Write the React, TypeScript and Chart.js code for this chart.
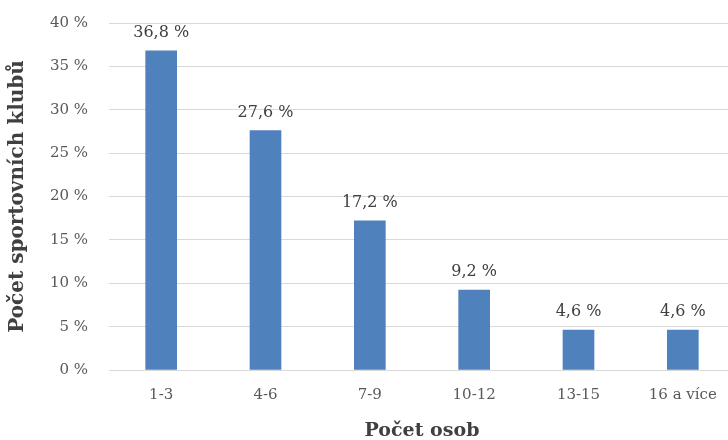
import React, { useEffect, useRef } from "react";
import { Chart, registerables } from "chart.js";

Chart.register(...registerables);

const categories = ["1-3", "4-6", "7-9", "10-12", "13-15", "16 a více"];
const values = [36.8, 27.6, 17.2, 9.2, 4.6, 4.6];
const valueLabels = ["36,8 %", "27,6 %", "17,2 %", "9,2 %", "4,6 %", "4,6 %"];
const yTitle = "Počet sportovních klubů";
const xTitle = "Počet osob";

const FONT = "'DejaVu Serif', 'Liberation Serif', serif";

const dataLabelPlugin = {
  id: "dataLabels",
  afterDatasetsDraw(chart: any) {
    const ctx = chart.ctx;
    const meta = chart.getDatasetMeta(0);
    ctx.save();
    ctx.font = `16px ${FONT}`;
    ctx.fillStyle = "#404040";
    ctx.textAlign = "center";
    ctx.textBaseline = "middle";
    meta.data.forEach((bar: any, i: number) => {
      ctx.fillText(valueLabels[i], bar.x, bar.y - 18);
    });
    ctx.restore();
  },
};

export default function App() {
  const ref = useRef<HTMLCanvasElement>(null);
  useEffect(() => {
    document.body.style.margin = "0";
    const chart = new Chart(ref.current!, {
      type: "bar",
      data: {
        labels: categories,
        datasets: [
          {
            data: values,
            backgroundColor: "#4F81BD",
            barThickness: 31,
          },
        ],
      },
      options: {
        animation: false,
        responsive: false,
        devicePixelRatio: 1,
        layout: { padding: { top: 23, right: 0, bottom: 0, left: 0 } },
        plugins: { legend: { display: false }, tooltip: { enabled: false } },
        scales: {
          x: {
            grid: { display: false, drawTicks: false },
            border: { display: true, color: "#D9D9D9", width: 1 },
            ticks: { color: "#595959", font: { family: FONT, size: 15 }, padding: 16, maxRotation: 0 },
            title: {
              display: true,
              text: xTitle,
              color: "#404040",
              font: { family: FONT, size: 19, weight: "bold" },
              padding: { top: 0, bottom: -2 },
            },
            afterFit(scale: any) {
              scale.height = 70;
            },
          },
          y: {
            min: 0,
            max: 40,
            ticks: {
              stepSize: 5,
              color: "#595959",
              font: { family: FONT, size: 15 },
              padding: 21,
              callback: (v: any) => `${v} %`,
            },
            grid: { color: "#D9D9D9", drawTicks: false },
            border: { display: false },
            title: {
              display: true,
              text: yTitle,
              color: "#404040",
              font: { family: FONT, size: 20, weight: "bold" },
              padding: { top: 6, bottom: 0 },
            },
            afterFit(scale: any) {
              scale.width = 109;
              scale.paddingTop = 0;
              scale.paddingBottom = 0;
            },
          },
        },
      },
      plugins: [dataLabelPlugin],
    });
    return () => chart.destroy();
  }, []);
  return (
    <div style={{ width: 728, height: 440, overflow: "hidden" }}>
      <canvas ref={ref} width={735} height={440} style={{ width: 735, height: 440, display: "block" }} />
    </div>
  );
}
